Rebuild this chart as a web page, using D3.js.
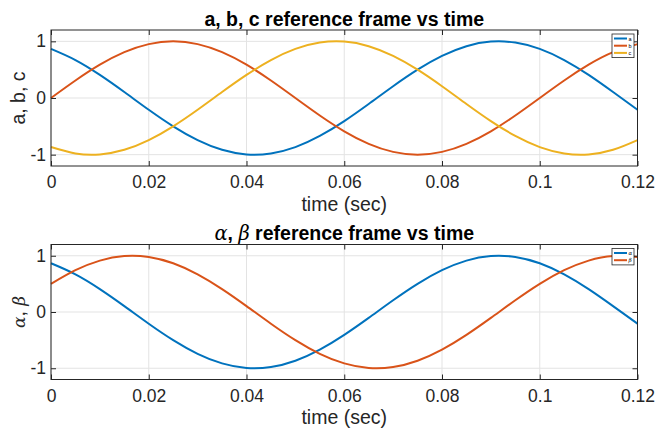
<!DOCTYPE html>
<html>
<head>
<meta charset="utf-8">
<script src="https://cdn.jsdelivr.net/npm/d3@7"></script>
<style>
  body { margin: 0; background: #fff; }
  svg { display: block; font-family: "Liberation Sans", Arial, sans-serif; }
</style>
</head>
<body>
<svg id="chart" width="656" height="432"></svg>
<script>
const time = [0, 0.005, 0.01, 0.015, 0.02, 0.025, 0.03, 0.035, 0.04, 0.045, 0.05, 0.055,
  0.06, 0.065, 0.07, 0.075, 0.08, 0.085, 0.09, 0.095, 0.1, 0.105, 0.11, 0.115, 0.12];

const aVals = [0.866, 0.669, 0.407, 0.105, -0.208, -0.5, -0.743, -0.914, -0.995, -0.978, -0.866, -0.669,
  -0.407, -0.105, 0.208, 0.5, 0.743, 0.914, 0.995, 0.978, 0.866, 0.669, 0.407, 0.105, -0.208];
const bVals = [0, 0.309, 0.588, 0.809, 0.951, 1, 0.951, 0.809, 0.588, 0.309, 0, -0.309,
  -0.588, -0.809, -0.951, -1, -0.951, -0.809, -0.588, -0.309, 0, 0.309, 0.588, 0.809, 0.951];
const cVals = [-0.866, -0.978, -0.995, -0.914, -0.743, -0.5, -0.208, 0.105, 0.407, 0.669, 0.866, 0.978,
  0.995, 0.914, 0.743, 0.5, 0.208, -0.105, -0.407, -0.669, -0.866, -0.978, -0.995, -0.914, -0.743];

const alphaVals = [0.866, 0.669, 0.407, 0.105, -0.208, -0.5, -0.743, -0.914, -0.995, -0.978, -0.866, -0.669,
  -0.407, -0.105, 0.208, 0.5, 0.743, 0.914, 0.995, 0.978, 0.866, 0.669, 0.407, 0.105, -0.208];
const betaVals = [0.5, 0.743, 0.914, 0.995, 0.978, 0.866, 0.669, 0.407, 0.105, -0.208, -0.5, -0.743,
  -0.914, -0.995, -0.978, -0.866, -0.669, -0.407, -0.105, 0.208, 0.5, 0.743, 0.914, 0.995, 0.978];

const xTicks = [0, 0.02, 0.04, 0.06, 0.08, 0.1, 0.12];
const yTicks = [-1, 0, 1];
const colors = ['#0072BD', '#D95319', '#EDB120'];

// ---- layout ----
const svg = d3.select('#chart');
const left = 51, right = 637.5;
const axColor = '#262626';
const tickFont = 17.5, labelFont = 19.5;

const x = d3.scaleLinear().domain([0, 0.12]).range([left, right]);

function panel(top, bottom, series, legendNames, yLabel, title) {
  const y = d3.scaleLinear().domain([-1.2, 1.2]).range([bottom, top]);
  const g = svg.append('g');

  // grid
  g.append('g').selectAll('line').data(xTicks).join('line')
    .attr('x1', d => x(d)).attr('x2', d => x(d))
    .attr('y1', top).attr('y2', bottom)
    .attr('stroke', '#e3e3e3').attr('stroke-width', 1);
  g.append('g').selectAll('line').data(yTicks).join('line')
    .attr('x1', left).attr('x2', right)
    .attr('y1', d => y(d)).attr('y2', d => y(d))
    .attr('stroke', '#e3e3e3').attr('stroke-width', 1);

  // curves
  const line = d3.line().x((d, i) => x(time[i])).y(d => y(d)).curve(d3.curveNatural);
  g.append('g').selectAll('path').data(series).join('path')
    .attr('d', d => line(d))
    .attr('fill', 'none')
    .attr('stroke', (d, i) => colors[i])
    .attr('stroke-width', 2);

  // axes (ticks inside, box on)
  const tick = 5;
  g.append('g').attr('transform', `translate(0,${bottom})`)
    .call(d3.axisBottom(x).tickValues(xTicks).tickSize(-tick).tickPadding(10).tickFormat(d => String(d)))
    .call(a => a.select('.domain').remove());
  g.append('g').attr('transform', `translate(0,${top})`)
    .call(d3.axisTop(x).tickValues(xTicks).tickSize(-tick).tickFormat(''))
    .call(a => a.select('.domain').remove());
  g.append('g').attr('transform', `translate(${left},0)`)
    .call(d3.axisLeft(y).tickValues(yTicks).tickSize(-tick).tickPadding(5).tickFormat(d => String(d)))
    .call(a => a.select('.domain').remove());
  g.append('g').attr('transform', `translate(${right},0)`)
    .call(d3.axisRight(y).tickValues(yTicks).tickSize(-tick).tickFormat(''))
    .call(a => a.select('.domain').remove());

  g.selectAll('.tick line').attr('stroke', axColor);
  g.selectAll('.tick text').attr('fill', axColor).attr('font-size', tickFont)
    .attr('font-family', '"Liberation Sans", Arial, sans-serif');

  g.append('rect')
    .attr('x', left).attr('y', top).attr('width', right - left).attr('height', bottom - top)
    .attr('fill', 'none').attr('stroke', axColor).attr('stroke-width', 1);

  // x label
  g.append('text')
    .attr('x', (left + right) / 2).attr('y', bottom + 44.5)
    .attr('text-anchor', 'middle').attr('font-size', labelFont).attr('fill', axColor)
    .text('time (sec)');

  // y label
  const yl = g.append('text')
    .attr('transform', `translate(25,${(top + bottom) / 2}) rotate(-90)`)
    .attr('text-anchor', 'middle').attr('font-size', labelFont).attr('fill', axColor);
  yLabel(yl);

  // title
  const tt = g.append('text')
    .attr('x', (left + right) / 2).attr('y', top - 4.5)
    .attr('text-anchor', 'middle').attr('font-size', labelFont).attr('font-weight', 'bold').attr('fill', '#000');
  title(tt);

  // legend
  const lx = 612, lw = 22, rowH = 7.2;
  const lh = legendNames.length * rowH + 2;
  const ly = top + 4;
  const leg = g.append('g');
  leg.append('rect').attr('x', lx).attr('y', ly).attr('width', lw).attr('height', lh)
    .attr('fill', '#fff').attr('stroke', axColor).attr('stroke-width', 0.8);
  legendNames.forEach((n, i) => {
    const yy = ly + 4.5 + i * rowH;
    leg.append('line').attr('x1', lx + 2).attr('x2', lx + 15).attr('y1', yy).attr('y2', yy)
      .attr('stroke', colors[i]).attr('stroke-width', 2);
    leg.append('text').attr('x', lx + 16.5).attr('y', yy + 2).attr('font-size', 5.5)
      .attr('font-style', n.italic ? 'italic' : null)
      .attr('font-family', n.italic ? '"DejaVu Serif", serif' : null)
      .attr('fill', '#000').text(n.label);
  });
}

panel(30, 166, [aVals, bVals, cVals],
  [{ label: 'a' }, { label: 'b' }, { label: 'c' }],
  t => t.text('a, b, c'),
  t => t.text('a, b, c reference frame vs time'));

panel(244.5, 379.5, [alphaVals, betaVals],
  [{ label: 'α', italic: true }, { label: 'β', italic: true }],
  t => {
    t.append('tspan').attr('font-family', '"DejaVu Serif", serif').attr('font-style', 'italic').attr('font-size', 17).text('α');
    t.append('tspan').text(', ');
    t.append('tspan').attr('font-family', '"DejaVu Serif", serif').attr('font-style', 'italic').attr('font-size', 17).text('β');
  },
  t => {
    t.append('tspan').attr('font-family', '"DejaVu Serif", serif').attr('font-style', 'italic').attr('font-weight', 'normal').text('α');
    t.append('tspan').text(', ');
    t.append('tspan').attr('font-family', '"DejaVu Serif", serif').attr('font-style', 'italic').attr('font-weight', 'normal').text('β');
    t.append('tspan').text(' reference frame vs time');
  });
</script>
</body>
</html>
